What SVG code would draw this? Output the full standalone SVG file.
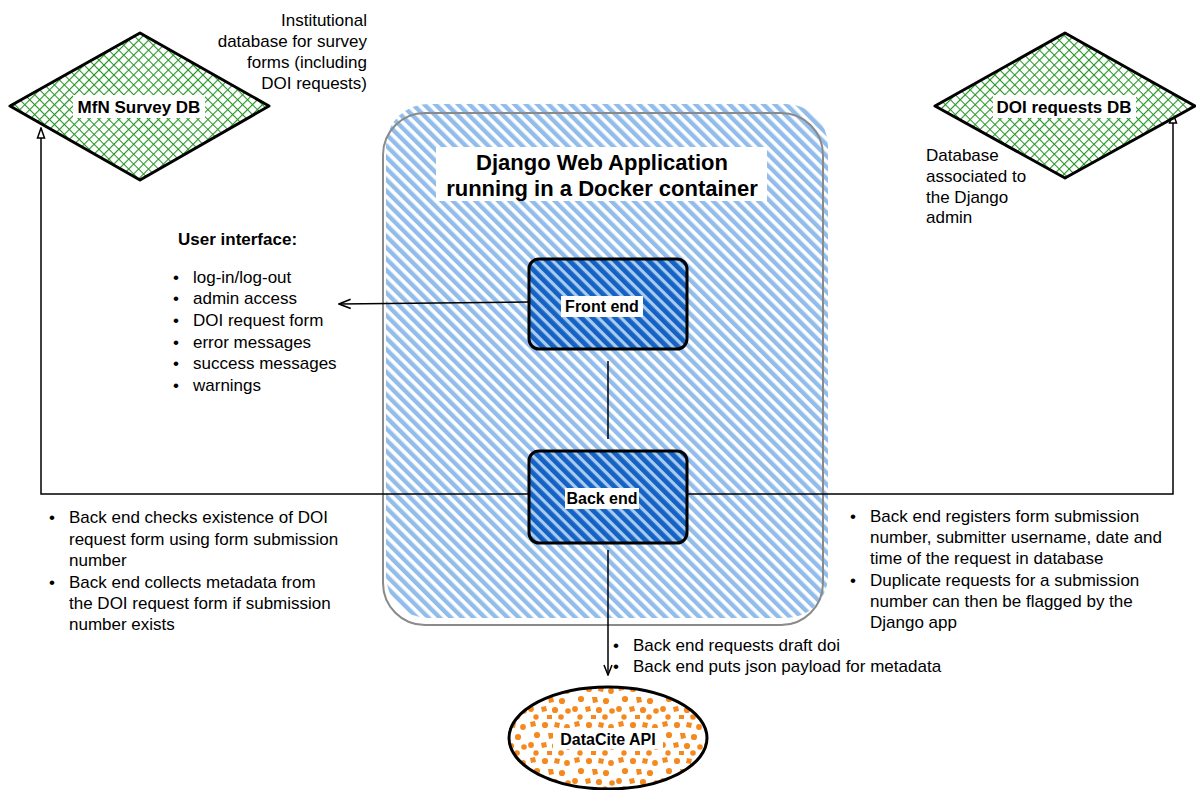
<svg xmlns="http://www.w3.org/2000/svg" width="1196" height="790" viewBox="0 0 1196 790">
  <style>
    .t { font-family: "Liberation Sans", Arial, sans-serif; font-size: 17px; fill: #000; }
    .b { font-weight: bold; }
    .title { font-family: "Liberation Sans", Arial, sans-serif; font-size: 22px; font-weight: bold; fill: #000; text-anchor: middle; }
    .lbl { font-family: "Liberation Sans", Arial, sans-serif; font-size: 17px; font-weight: bold; fill: #000; text-anchor: middle; }
    .lbl2 { font-family: "Liberation Sans", Arial, sans-serif; font-size: 16px; font-weight: bold; fill: #000; text-anchor: middle; }
    .conn { fill: none; stroke: #000; stroke-width: 1.5; }
    .lblbg { fill: #fff; }
  </style>
  <defs>
    <pattern id="hatchLight" patternUnits="userSpaceOnUse" width="8" height="8" patternTransform="rotate(-45)">
      <rect x="0" y="0" width="4.4" height="8" fill="#92bdea"/>
    </pattern>
    <pattern id="hatchDark" patternUnits="userSpaceOnUse" width="8" height="8" patternTransform="rotate(-45)">
      <rect x="0" y="0" width="8" height="8" fill="#a9cbef"/>
      <rect x="0" y="0" width="4.8" height="8" fill="#1462c4"/>
    </pattern>
    <pattern id="grid" patternUnits="userSpaceOnUse" width="7" height="7" patternTransform="rotate(45)">
      <rect width="7" height="7" fill="#fff"/>
      <path d="M0 0 H7 M0 0 V7" stroke="#249624" stroke-width="2.2"/>
    </pattern>
    <pattern id="dots" patternUnits="userSpaceOnUse" width="44" height="36">
      <rect width="44" height="36" fill="#fff"/>
      <g fill="#f5891e">
        <path d="M2 2 l5 -1 l1 5 l-5 1 z"/>
        <circle cx="17" cy="5" r="3.1"/>
        <path d="M27 2 l5 1 l-1 5 l-5 -1 z"/>
        <circle cx="39" cy="7" r="2.9"/>
        <circle cx="9" cy="15" r="3.1"/>
        <path d="M20 13 l5 0 l1 5 l-5 1 z"/>
        <circle cx="34" cy="17" r="3.1"/>
        <circle cx="3" cy="25" r="2.9"/>
        <path d="M13 23 l5 -1 l1 5 l-5 1 z"/>
        <circle cx="27" cy="26" r="3.1"/>
        <circle cx="40" cy="27" r="2.8"/>
        <circle cx="8" cy="33" r="2.7"/>
        <path d="M19 31 l5 0 l0 4 l-5 0 z"/>
        <circle cx="33" cy="33" r="2.8"/>
      </g>
    </pattern>
    <marker id="openArrow" markerUnits="userSpaceOnUse" markerWidth="14" markerHeight="14" refX="11" refY="5" orient="auto" viewBox="0 0 12 10">
      <path d="M1 1 L11 5 L1 9" fill="none" stroke="#000" stroke-width="1.5"/>
    </marker>
    <marker id="hollowTri" markerUnits="userSpaceOnUse" markerWidth="12" markerHeight="12" refX="11" refY="5" orient="auto" viewBox="0 0 12 10">
      <path d="M1 1.5 L11 5 L1 8.5 Z" fill="#fff" stroke="#000" stroke-width="1.5"/>
    </marker>
    <marker id="filledTri" markerUnits="userSpaceOnUse" markerWidth="12" markerHeight="12" refX="11" refY="5" orient="auto" viewBox="0 0 12 10">
      <path d="M1 1 L11 5 L1 9" fill="none" stroke="#000" stroke-width="1.5"/>
    </marker>
  </defs>

  <rect width="1196" height="790" fill="#fff"/>

  <!-- Container -->
  <g id="container">
    <rect x="386" y="104" width="442" height="514" rx="42" fill="url(#hatchLight)"/>
    <rect x="383" y="113" width="440" height="512" rx="42" fill="none" stroke="#8a8a8a" stroke-width="2"/>
    <rect x="436" y="147" width="331" height="54" class="lblbg"/>
    <text x="602" y="170" class="title">Django Web Application</text>
    <text x="602" y="196" class="title">running in a Docker container</text>
  </g>

  <!-- Connectors -->
  <g id="connectors">
    <path class="conn" d="M529 302 L339 304" marker-end="url(#openArrow)"/>
    <path class="conn" d="M608 361 L608 439"/>
    <path class="conn" d="M529 494 L41 494 L41 128" marker-end="url(#hollowTri)"/>
    <path class="conn" d="M687 494 L1173 494 L1173 113" marker-end="url(#hollowTri)"/>
    <path class="conn" d="M608 550 L608 675" marker-end="url(#filledTri)"/>
  </g>

  <!-- MfN Survey DB -->
  <g id="mfn-survey-db">
    <path d="M10 106 L140 33 L269 106 L140 180 Z" fill="url(#grid)" stroke="#000" stroke-width="3" stroke-linejoin="round"/>
    <rect x="73" y="95" width="132" height="23" class="lblbg"/>
    <text x="139" y="113" class="lbl">MfN Survey DB</text>
  </g>

  <!-- DOI requests DB -->
  <g id="doi-requests-db">
    <path d="M935 106 L1065 33 L1195 106 L1065 178 Z" fill="url(#grid)" stroke="#000" stroke-width="3" stroke-linejoin="round"/>
    <rect x="993" y="95" width="143" height="23" class="lblbg"/>
    <text x="1064" y="113" class="lbl">DOI requests DB</text>
  </g>

  <!-- Front end -->
  <g id="front-end">
    <rect x="529" y="259" width="158" height="90" rx="10" fill="url(#hatchDark)" stroke="#000" stroke-width="3"/>
    <rect x="561" y="296" width="82" height="21" class="lblbg"/>
    <text x="602" y="312" class="lbl2">Front end</text>
  </g>

  <!-- Back end -->
  <g id="back-end">
    <rect x="529" y="451" width="158" height="92" rx="10" fill="url(#hatchDark)" stroke="#000" stroke-width="3"/>
    <rect x="565" y="488" width="74" height="21" class="lblbg"/>
    <text x="602" y="504" class="lbl2">Back end</text>
  </g>

  <!-- DataCite API -->
  <g id="datacite-api">
    <ellipse cx="608" cy="738" rx="99" ry="51" fill="url(#dots)" stroke="#000" stroke-width="3"/>
    <rect x="553" y="728" width="110" height="21" class="lblbg"/>
    <text x="608" y="745" class="lbl2">DataCite API</text>
  </g>

  <!-- Annotations -->
  <g id="note-mfn" class="t" text-anchor="end">
    <text x="367" y="26">Institutional</text>
    <text x="367" y="47">database for survey</text>
    <text x="367" y="68">forms (including</text>
    <text x="367" y="89">DOI requests)</text>
  </g>

  <g id="note-doi" class="t">
    <text x="926" y="161">Database</text>
    <text x="926" y="182">associated to</text>
    <text x="926" y="203">the Django</text>
    <text x="926" y="223">admin</text>
  </g>

  <g id="note-ui" class="t">
    <text x="178" y="245" class="b">User interface:</text>
    <text x="173" y="283">•</text><text x="193" y="283">log-in/log-out</text>
    <text x="173" y="304">•</text><text x="193" y="304">admin access</text>
    <text x="173" y="326">•</text><text x="193" y="326">DOI request form</text>
    <text x="173" y="348">•</text><text x="193" y="348">error messages</text>
    <text x="173" y="369">•</text><text x="193" y="369">success messages</text>
    <text x="173" y="391">•</text><text x="193" y="391">warnings</text>
  </g>

  <g id="note-left" class="t">
    <text x="49" y="523">•</text><text x="69" y="523">Back end checks existence of DOI</text>
    <text x="69" y="545">request form using form submission</text>
    <text x="69" y="566">number</text>
    <text x="49" y="588">•</text><text x="69" y="588">Back end collects metadata from</text>
    <text x="69" y="609">the DOI request form if submission</text>
    <text x="69" y="630">number exists</text>
  </g>

  <g id="note-right" class="t">
    <text x="850" y="522">•</text><text x="870" y="522">Back end registers form submission</text>
    <text x="870" y="543">number, submitter username, date and</text>
    <text x="870" y="564">time of the request in database</text>
    <text x="850" y="586">•</text><text x="870" y="586">Duplicate requests for a submission</text>
    <text x="870" y="607">number can then be flagged  by the</text>
    <text x="870" y="628">Django app</text>
  </g>

  <g id="note-datacite" class="t">
    <text x="613" y="651">•</text><text x="633" y="651">Back end requests draft doi</text>
    <text x="613" y="672">•</text><text x="633" y="672">Back end puts json payload for metadata</text>
  </g>
</svg>
